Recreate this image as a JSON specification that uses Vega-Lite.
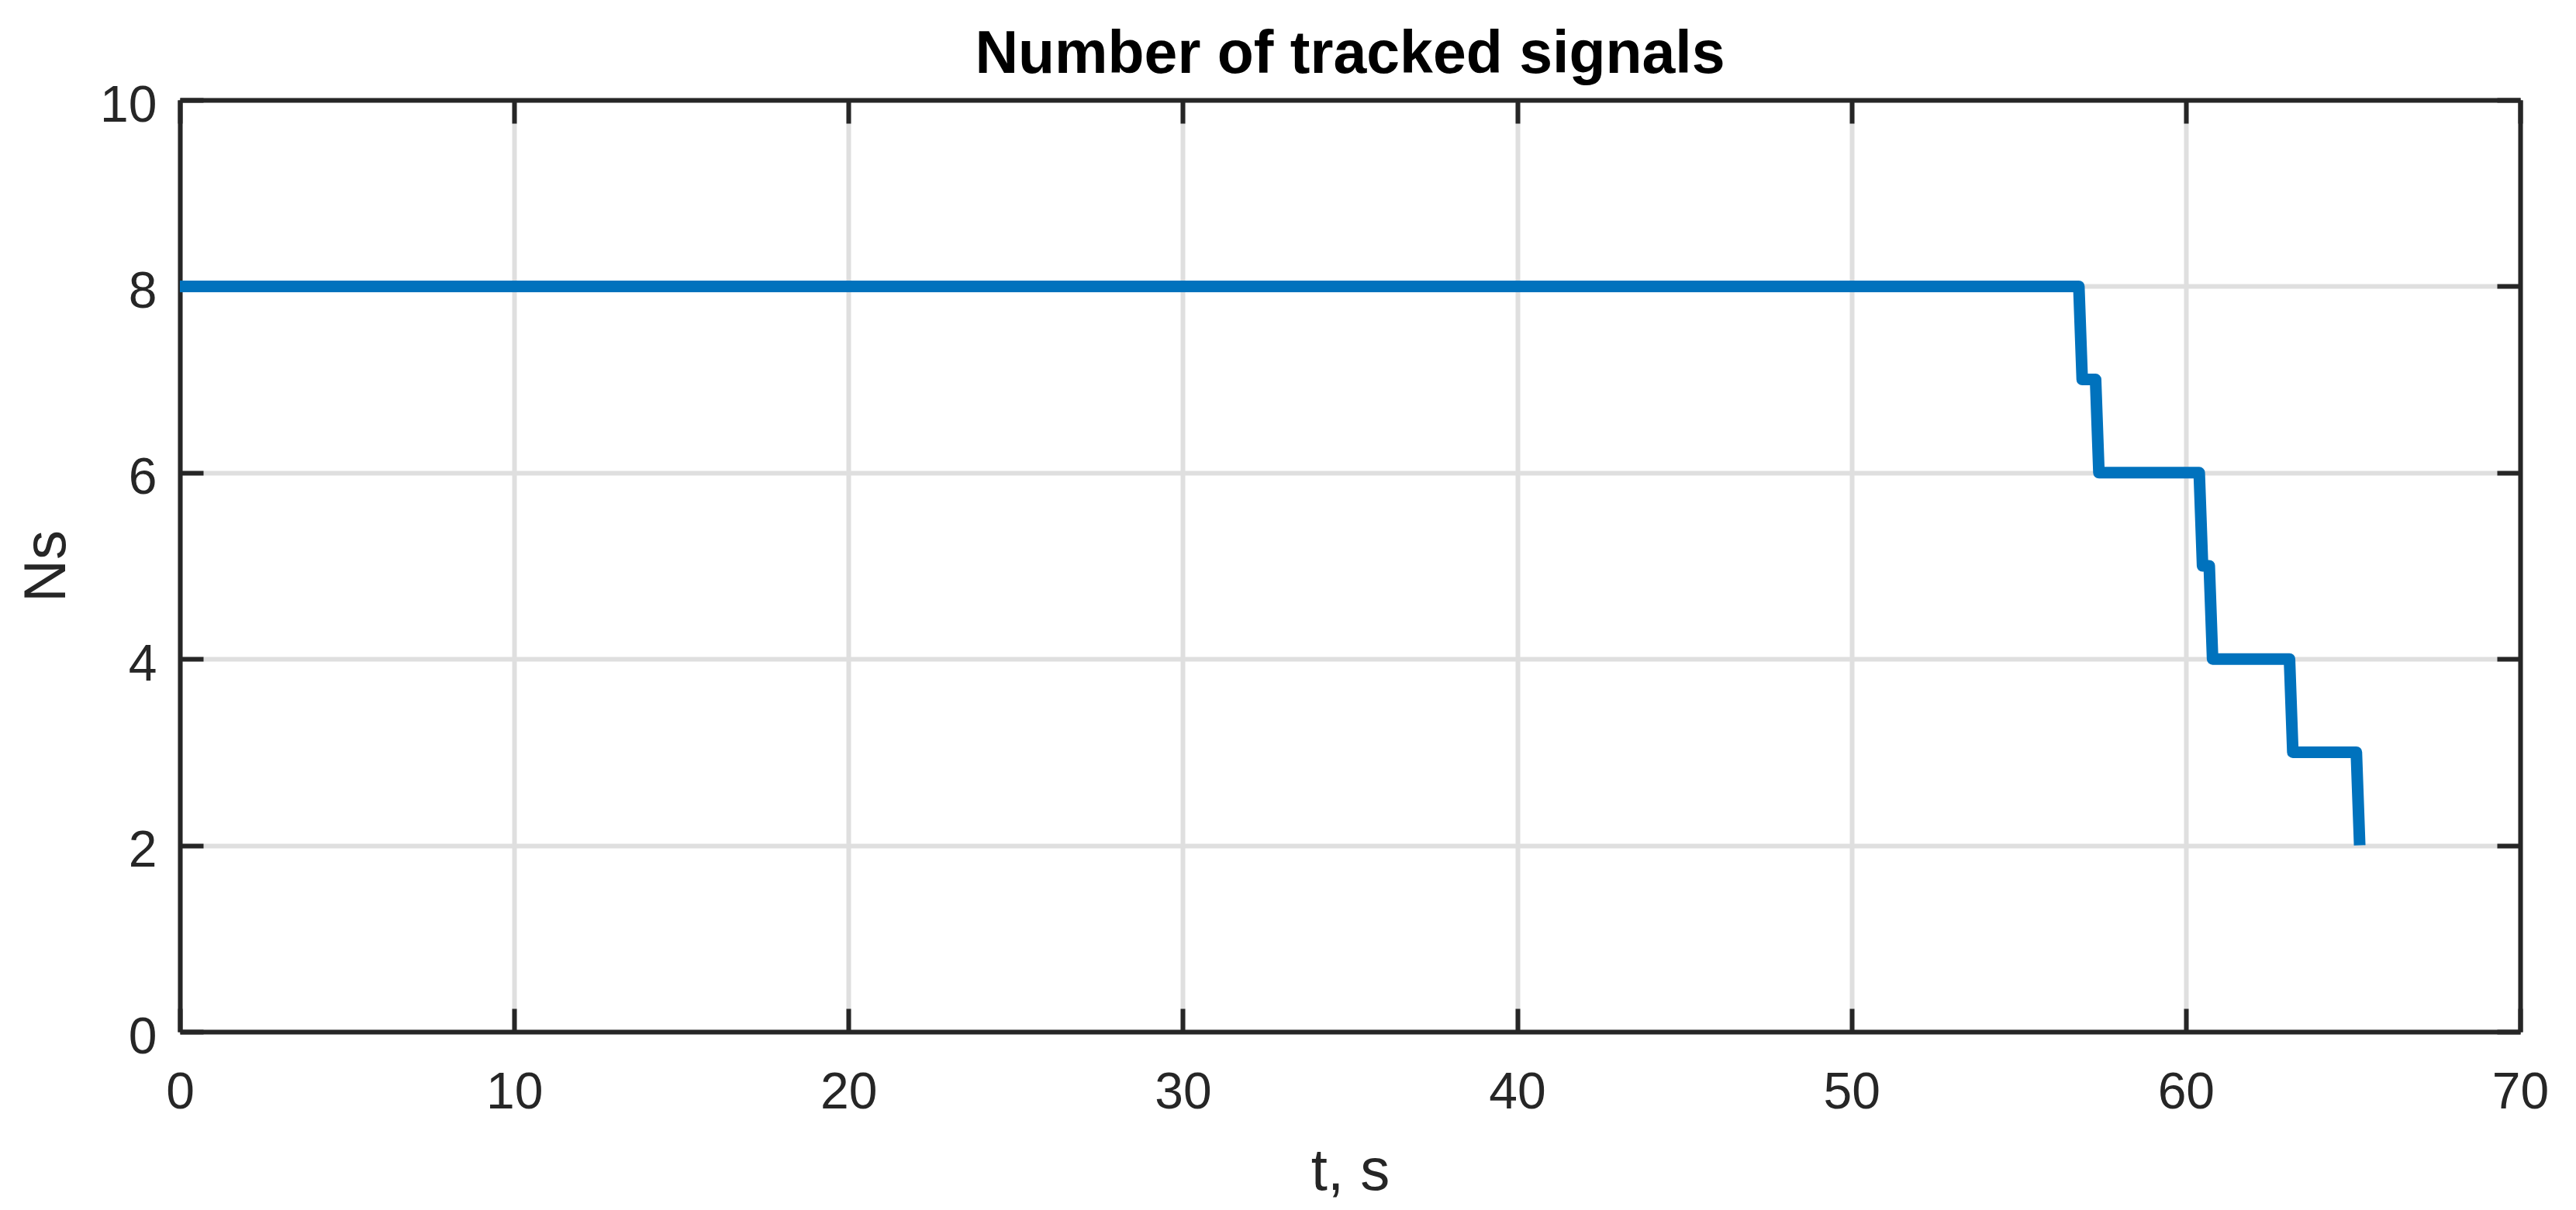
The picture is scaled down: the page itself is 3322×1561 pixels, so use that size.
{
  "$schema": "https://vega.github.io/schema/vega-lite/v6.json",
  "autosize": {"type": "none"},
  "padding": {"left": 232, "top": 129, "right": 72, "bottom": 230},
  "width": 3018,
  "height": 1202,
  "background": "white",
  "config": {
    "view": {"stroke": null},
    "font": "Liberation Sans",
    "axis": {
      "domainColor": "#262626",
      "domainWidth": 6,
      "tickColor": "#262626",
      "tickWidth": 6,
      "tickSize": -30,
      "gridColor": "#dfdfdf",
      "gridWidth": 6,
      "gridOpacity": 1,
      "labelFont": "Liberation Sans",
      "labelFontSize": 66,
      "labelColor": "#262626",
      "titleFont": "Liberation Sans",
      "titleFontSize": 76,
      "titleFontWeight": "normal",
      "titleColor": "#262626",
      "labelFlush": false,
      "labelOverlap": false
    }
  },
  "title": {
    "text": "Number of tracked signals",
    "font": "Liberation Sans",
    "fontSize": 77,
    "fontWeight": "bold",
    "color": "#000000",
    "anchor": "middle",
    "baseline": "alphabetic",
    "offset": -68
  },
  "data": {
    "values": [
      {"t": 0, "Ns": 8},
      {"t": 56.8, "Ns": 8},
      {"t": 56.9, "Ns": 7},
      {"t": 57.3, "Ns": 7},
      {"t": 57.4, "Ns": 6},
      {"t": 60.4, "Ns": 6},
      {"t": 60.5, "Ns": 5},
      {"t": 60.7, "Ns": 5},
      {"t": 60.8, "Ns": 4},
      {"t": 63.1, "Ns": 4},
      {"t": 63.2, "Ns": 3},
      {"t": 65.1, "Ns": 3},
      {"t": 65.2, "Ns": 2}
    ]
  },
  "layer": [
    {
      "mark": {"type": "line", "color": "#0072BD", "strokeWidth": 15, "strokeCap": "butt", "strokeJoin": "round", "clip": true},
      "encoding": {
        "x": {
          "field": "t", "type": "quantitative",
          "scale": {"domain": [0, 70], "nice": false, "zero": false},
          "axis": {
            "orient": "bottom",
            "values": [0, 10, 20, 30, 40, 50, 60, 70],
            "grid": true,
            "title": "t, s",
            "labelPadding": 76,
            "titlePadding": 32
          }
        },
        "y": {
          "field": "Ns", "type": "quantitative",
          "scale": {"domain": [0, 10], "nice": false, "zero": false},
          "axis": {
            "orient": "left",
            "values": [0, 2, 4, 6, 8, 10],
            "grid": true,
            "title": "Ns",
            "labelPadding": 60,
            "labelOffset": 7,
            "titlePadding": 29
          }
        }
      }
    },
    {
      "mark": {"type": "line", "opacity": 0},
      "encoding": {
        "x": {
          "field": "t", "type": "quantitative",
          "scale": {"domain": [0, 70], "nice": false, "zero": false},
          "axis": {
            "orient": "top",
            "values": [0, 10, 20, 30, 40, 50, 60, 70],
            "grid": false,
            "labels": false,
            "title": null
          }
        },
        "y": {
          "field": "Ns", "type": "quantitative",
          "scale": {"domain": [0, 10], "nice": false, "zero": false},
          "axis": {
            "orient": "right",
            "values": [0, 2, 4, 6, 8, 10],
            "grid": false,
            "labels": false,
            "title": null
          }
        }
      }
    }
  ],
  "resolve": {"axis": {"x": "independent", "y": "independent"}}
}
